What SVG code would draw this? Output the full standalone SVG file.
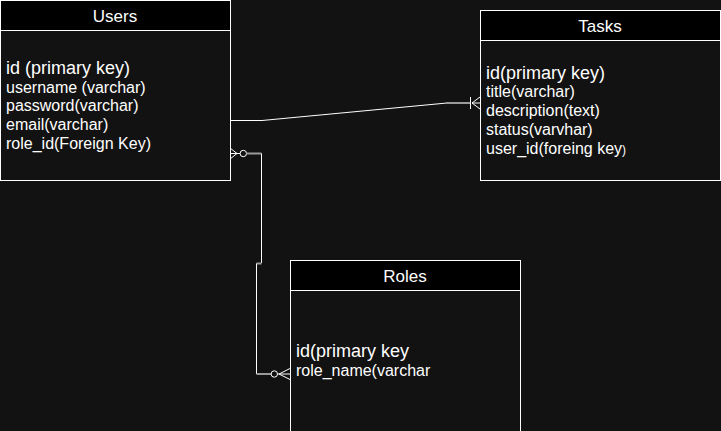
<svg xmlns="http://www.w3.org/2000/svg" width="721" height="431" viewBox="0 0 721 431">
<style>
.body{fill:#121212;stroke:#fff;stroke-width:1}
.head{fill:#000;stroke:#fff;stroke-width:1}
.title{font-family:"Liberation Sans",Arial,sans-serif;font-size:17px;fill:#fff;text-anchor:middle}
.pk{font-family:"Liberation Sans",Arial,sans-serif;font-size:18px;fill:#fff}
.f{font-family:"Liberation Sans",Arial,sans-serif;font-size:16px;fill:#fff}
.edge{fill:none;stroke:#fff;stroke-width:1}
.end{fill:none;stroke:#9a9a9a;stroke-width:2}
.mk{fill:none;stroke:#fff;stroke-width:1}
</style>
<rect x="0" y="0" width="721" height="431" fill="#121212"/>
<g id="connectors">
<g id="users-tasks">
<path class="edge" d="M230.5,120.5 L262,120.5 L447,103"/>
<path class="end" d="M446,103 L470,103"/>
<line class="mk" x1="470.5" y1="97" x2="470.5" y2="109"/>
<path class="mk" d="M480,97 L472,103 L480,109 M472,103 L480,103"/>
</g>
<g id="users-roles">
<path class="mk" d="M230,148 L237,153.5 L230,159 M230,153.5 L240,153.5"/>
<circle class="mk" cx="243.3" cy="153.5" r="3.2"/>
<path class="end" d="M246.5,153.5 L261.5,153.5"/>
<path class="edge" d="M261.5,153.5 L261.5,263"/>
<path class="end" d="M261.5,263.5 L256.5,263.5"/>
<path class="edge" d="M256.5,263.5 L256.5,374"/>
<path class="end" d="M256.5,374 L271,374"/>
<circle class="mk" cx="274.3" cy="374" r="3.2"/>
<path class="mk" d="M290,368.5 L279,374 L290,379.5 M277.5,374 L290,374"/>
</g>
</g>
<g id="users">
<rect class="body" x="0.5" y="0.5" width="230" height="180"/>
<rect class="head" x="0.5" y="0.5" width="230" height="30"/>
<text class="title" x="115" y="22">Users</text>
<text class="pk" x="6" y="74">id (primary key)</text>
<text class="f" x="6" y="92.5">username (varchar)</text>
<text class="f" x="6" y="111">password(varchar)</text>
<text class="f" x="6" y="130">email(varchar)</text>
<text class="f" x="6" y="149">role_id(Foreign Key)</text>
</g>
<g id="tasks">
<rect class="body" x="480.5" y="10.5" width="240" height="170"/>
<rect class="head" x="480.5" y="10.5" width="240" height="30"/>
<text class="title" x="600" y="32">Tasks</text>
<text class="pk" x="486" y="78.5">id(primary key)</text>
<text class="f" x="486" y="97">title(varchar)</text>
<text class="f" x="486" y="116">description(text)</text>
<text class="f" x="486" y="135">status(varvhar)</text>
<text class="f" x="486" y="154">user_id(foreing key<tspan font-size="12px">)</tspan></text>
</g>
<g id="roles">
<rect class="body" x="290.5" y="260.5" width="230" height="190"/>
<rect class="head" x="290.5" y="260.5" width="230" height="30"/>
<text class="title" x="405" y="282">Roles</text>
<text class="pk" x="296" y="357">id(primary key</text>
<text class="f" x="296" y="376">role_name(varchar</text>
</g>
</svg>
